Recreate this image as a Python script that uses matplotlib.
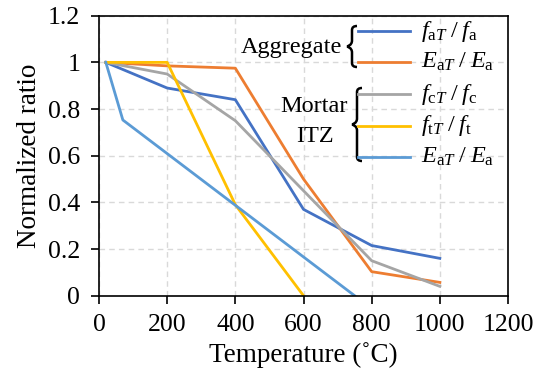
import numpy as np
import matplotlib
matplotlib.use("Agg")
import matplotlib.pyplot as plt
from matplotlib.path import Path
from matplotlib.patches import PathPatch
from matplotlib.lines import Line2D

plt.rcParams['font.family'] = ['Liberation Serif', 'DejaVu Serif']
plt.rcParams['mathtext.fontset'] = 'custom'
plt.rcParams['mathtext.rm'] = 'Liberation Serif'
plt.rcParams['mathtext.it'] = 'Liberation Serif:italic'

# data
temp = [20, 200, 400, 600, 800, 1000]
agg_f = [1.0, 0.89, 0.84, 0.37, 0.215, 0.16]
agg_E = [1.0, 0.985, 0.975, 0.5, 0.103, 0.057]
mor_fc = [1.0, 0.95, 0.75, 0.45, 0.15, 0.04]
temp_ft = [20, 200, 400, 600]
mor_ft = [1.0, 1.0, 0.39, 0.0]
temp_E = [20, 70, 750]
mor_E = [1.0, 0.753, 0.0]

labels = [r'$f_{\mathrm{a}T}\;/\;f_{\mathrm{a}}$',
          r'$E_{\mathrm{a}T}\;/\;E_{\mathrm{a}}$',
          r'$f_{\mathrm{c}T}\;/\;f_{\mathrm{c}}$',
          r'$f_{\mathrm{t}T}\;/\;f_{\mathrm{t}}$',
          r'$E_{\mathrm{a}T}\;/\;E_{\mathrm{a}}$']
colors = ['#4472C4', '#ED7D31', '#A5A5A5', '#FFC000', '#5B9BD5']

W, H = 534, 379
fig = plt.figure(figsize=(W / 100, H / 100), dpi=100)
ax = fig.add_axes([99 / W, 1 - 295.7 / H, 409 / W, 280 / H])

series = [(temp, agg_f), (temp, agg_E), (temp, mor_fc), (temp_ft, mor_ft), (temp_E, mor_E)]
for (x, y), c in zip(series, colors):
    ax.plot(x, y, color=c, lw=2)

ax.set_xlim(0, 1200)
ax.set_ylim(0, 1.2)
ax.set_xticks(np.arange(0, 1201, 200))
ax.set_yticks(np.arange(0, 1.21, 0.2))
ax.set_yticklabels(['0', '0.2', '0.4', '0.6', '0.8', '1', '1.2'])
ax.grid(True, ls=(0, (4, 3)), color='#D9D9D9', lw=1)
ax.set_axisbelow(True)
ax.tick_params(labelsize=18.5, direction='out', length=5.5, width=1.2, pad=8)
for s in ax.spines.values():
    s.set_linewidth(1.2)
ax.set_xlabel('Temperature (˚C)', fontsize=19.5, labelpad=4)
ax.set_ylabel('Normalized ratio', fontsize=19.5, labelpad=4)

# legend drawn by hand, positions in image pixels (y from top)
def px(x, y):
    return x / W, 1 - y / H

line_y = [31, 62.3, 94.3, 125.7, 156.7]
for ly, c, lab in zip(line_y, colors, labels):
    fig.add_artist(Line2D([358 / W, 410 / W], [1 - ly / H] * 2, color=c, lw=2))
    fig.text(*px(421, ly), lab, fontsize=17.5, va='center', ha='left')

def brace(x0, y1, y2, w=10):
    # left curly brace, tip at x0, spans y1..y2 (image px)
    ym = (y1 + y2) / 2
    xm = x0 + w / 2
    xr = x0 + w
    pts = [(xr, y1), (xm, y1), (xm, y1 + 4),
           (xm, ym - 6),
           (xm, ym - 1), (x0, ym), (x0, ym),
           (x0, ym), (xm, ym + 1), (xm, ym + 6),
           (xm, y2 - 4),
           (xm, y2), (xr, y2)]
    codes = [Path.MOVETO, Path.CURVE3, Path.CURVE3,
             Path.LINETO,
             Path.CURVE4, Path.CURVE4, Path.CURVE4,
             Path.CURVE4, Path.CURVE4, Path.CURVE4,
             Path.LINETO,
             Path.CURVE3, Path.CURVE3]
    verts = [px(a, b) for a, b in pts]
    fig.add_artist(PathPatch(Path(verts, codes), transform=fig.transFigure,
                             fill=False, lw=1.8, color='black'))

brace(347, 26, 67)
brace(352, 88, 161)
fig.text(*px(342, 47), 'Aggregate', fontsize=17.5, ha='right', va='center')
fig.text(*px(348, 107), 'Mortar', fontsize=17.5, ha='right', va='center')
fig.text(*px(315, 137), 'ITZ', fontsize=17.5, ha='center', va='center')

fig.savefig('out.png', dpi=100)
